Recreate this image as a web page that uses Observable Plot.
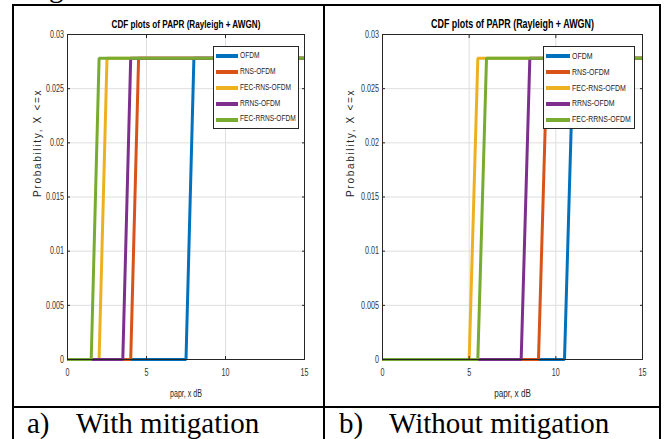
<!DOCTYPE html>
<html>
<head>
<meta charset="utf-8">
<script src="https://cdn.jsdelivr.net/npm/d3@7"></script>
<script src="https://cdn.jsdelivr.net/npm/@observablehq/plot@0.6"></script>
<style>
  html, body { margin: 0; padding: 0; background: #fff; }
  #wrap { position: relative; width: 667px; height: 439px; overflow: hidden; background: #fff; }
  .panel { position: absolute; top: 0; }
  .panel svg { overflow: visible; }
  .leg { position: absolute; background: #fff; border: 1px solid #262626; box-sizing: border-box;
         font-family: "Liberation Sans", Arial, sans-serif; color: #262626; }
  .leg .sw { position: absolute; height: 4px; }
  .leg .lb { position: absolute; line-height: 1; white-space: nowrap; transform-origin: 0 50%; transform: scaleX(0.71); }
  #over { position: absolute; left: 0; top: 0; pointer-events: none; }
</style>
</head>
<body>
<div id="wrap">
  <div id="left" class="panel" style="left:14px"></div>
  <div id="right" class="panel" style="left:325px"></div>
</div>
<script>
// ---------- data ----------
const seriesNames  = ["OFDM", "RNS-OFDM", "FEC-RNS-OFDM", "RRNS-OFDM", "FEC-RRNS-OFDM"];
const seriesColors = ["#0072BD", "#D95319", "#EDB120", "#7E2F8E", "#77AC30"];

// a) With mitigation : papr (dB) points and CDF values per series
const withX = [
  [0, 7.5, 8.0, 15],   // OFDM
  [0, 4.0, 4.5, 15],   // RNS-OFDM
  [0, 2.0, 2.5, 15],   // FEC-RNS-OFDM
  [0, 3.5, 4.0, 15],   // RRNS-OFDM
  [0, 1.5, 2.0, 15]    // FEC-RRNS-OFDM
];
const withY = [
  [0, 0, 0.0278, 0.0278],
  [0, 0, 0.0278, 0.0278],
  [0, 0, 0.0278, 0.0278],
  [0, 0, 0.0278, 0.0278],
  [0, 0, 0.0278, 0.0278]
];

// b) Without mitigation
const withoutX = [
  [0, 10.5, 11.0, 15], // OFDM
  [0, 9.0, 9.5, 15],   // RNS-OFDM
  [0, 5.0, 5.5, 15],   // FEC-RNS-OFDM
  [0, 8.0, 8.5, 15],   // RRNS-OFDM
  [0, 5.5, 6.0, 15]    // FEC-RRNS-OFDM
];
const withoutY = [
  [0, 0, 0.0278, 0.0278],
  [0, 0, 0.0278, 0.0278],
  [0, 0, 0.0278, 0.0278],
  [0, 0, 0.0278, 0.0278],
  [0, 0, 0.0278, 0.0278]
];

const xTicks = [0, 5, 10, 15];
const xTickLabels = ["0", "5", "10", "15"];
const yTicks = [0, 0.005, 0.01, 0.015, 0.02, 0.025, 0.03];
const yTickLabels = ["0", "0.005", "0.01", "0.015", "0.02", "0.025", "0.03"];

const chartTitle = "CDF plots of PAPR (Rayleigh + AWGN)";
const xLabel = "papr, x dB";
const yLabel = "Probability, X <=x";
const captions = [["a)", "With mitigation"], ["b)", "Without mitigation"]];

// ---------- helpers ----------
function rowsOf(X, Y) {
  return seriesNames.flatMap((name, i) => X[i].map((x, j) => ({series: name, x, y: Y[i][j]})));
}

const sans = "'Liberation Sans', Arial, sans-serif";
const SX = 0.71; // horizontal condensing of MATLAB-like narrow text

function panel(rows, o) {
  const svg = Plot.plot({
    width: o.width, height: 406,
    marginLeft: o.ml, marginRight: o.mr, marginTop: 34, marginBottom: 47,
    x: {domain: [0, 15]},
    y: {domain: [0, 0.03]},
    color: {domain: seriesNames, range: seriesColors},
    style: {fontFamily: sans, fontSize: "10px", color: "#262626", background: "transparent", overflow: "visible"},
    marks: [
      Plot.gridX(xTicks, {stroke: "#dedede", strokeOpacity: 1}),
      Plot.gridY(yTicks, {stroke: "#dedede", strokeOpacity: 1}),
      Plot.line(rows, {x: "x", y: "y", z: "series", stroke: "series", strokeWidth: 3, strokeLinejoin: "miter", strokeLinecap: "butt"}),
      Plot.frame({stroke: "#262626"}),
      Plot.axisX(xTicks, {anchor: "bottom", tickSize: -3, tickFormat: null, text: null, label: null, stroke: "#262626"}),
      Plot.axisX(xTicks, {anchor: "top", tickSize: -3, tickFormat: null, text: null, label: null, stroke: "#262626"}),
      Plot.axisY(yTicks, {anchor: "left", tickSize: -3, tickFormat: null, text: null, label: null, stroke: "#262626"}),
      Plot.axisY(yTicks, {anchor: "right", tickSize: -3, tickFormat: null, text: null, label: null, stroke: "#262626"}),
      Plot.axisX(xTicks, {anchor: "bottom", tickSize: 0, tickPadding: 9.5, label: null, fill: "#333",
        tickFormat: (d, i) => xTickLabels[i], fontSize: o.tick}),
      Plot.axisY(yTicks, {anchor: "left", tickSize: 0, tickPadding: 3.5, label: null, fill: "#333",
        tickFormat: (d, i) => yTickLabels[i], fontSize: o.tick}),
      Plot.text([chartTitle], {frameAnchor: "top", dy: -10.5, lineAnchor: "middle", fontWeight: "bold",
        fontSize: o.title, fill: "#000"}),
      Plot.text([xLabel], {frameAnchor: "bottom", dy: 34, lineAnchor: "middle", fontSize: o.xl, fill: "#262626"}),
      Plot.text([yLabel], {frameAnchor: "left", dx: o.ydx, rotate: -90, lineAnchor: "middle",
        fontSize: o.yl, fill: "#262626"})
    ]
  });
  // condensed (MATLAB-like narrow) text: scale horizontally around each text's anchor;
  // the rotated y label is instead letter-spaced (wide) as in the original figure
  svg.querySelectorAll("text").forEach(t => {
    const tr = t.getAttribute("transform") || "";
    if (t.textContent === yLabel || tr.includes("rotate")) {
      t.style.letterSpacing = o.ls + "px";
      return;
    }
    if (tr) t.setAttribute("transform", tr + ` scale(${SX},1)`);
    else {
      const x = +(t.getAttribute("x") || 0);
      t.setAttribute("transform", `translate(${x},0) scale(${SX},1) translate(${-x},0)`);
    }
  });
  return svg;
}

document.getElementById("left").append(panel(rowsOf(withX, withY),
  {width: 309, ml: 53, mr: 19, tick: 10.1, title: 11.5, xl: 10, yl: 10, ydx: -29.5, ls: 1.7}));
document.getElementById("right").append(panel(rowsOf(withoutX, withoutY),
  {width: 334, ml: 57, mr: 17, tick: 10.1, title: 12.6, xl: 11.5, yl: 10, ydx: -32, ls: 1.7}));

// ---------- legends ----------
function legend(o) {
  const box = document.createElement("div");
  box.className = "leg";
  Object.assign(box.style, {left: o.left + "px", top: o.top + "px", width: o.w + "px", height: o.h + "px"});
  seriesNames.forEach((name, i) => {
    const cy = o.first + i * o.step;
    const sw = document.createElement("div");
    sw.className = "sw";
    Object.assign(sw.style, {left: o.swx + "px", width: o.sww + "px", top: (cy - 2) + "px", background: seriesColors[i]});
    const lb = document.createElement("div");
    lb.className = "lb";
    lb.textContent = name;
    Object.assign(lb.style, {left: o.tx + "px", top: (cy - o.fs * 0.55) + "px", fontSize: o.fs + "px"});
    box.append(sw, lb);
  });
  document.getElementById("wrap").append(box);
}
legend({left: 213, top: 46, w: 86, h: 83, first: 9.3, step: 15.8, swx: 2, sww: 22, tx: 25.5, fs: 9.3});
legend({left: 543, top: 46, w: 92, h: 83, first: 9.3, step: 15.8, swx: 1.5, sww: 24, tx: 27.5, fs: 9.8});

// ---------- table borders and captions ----------
const NS = "http://www.w3.org/2000/svg";
const over = document.createElementNS(NS, "svg");
over.setAttribute("id", "over");
over.setAttribute("width", 667);
over.setAttribute("height", 439);
function rect(x, y, w, h) {
  const r = document.createElementNS(NS, "rect");
  r.setAttribute("x", x); r.setAttribute("y", y); r.setAttribute("width", w); r.setAttribute("height", h);
  r.setAttribute("fill", "#000");
  over.append(r);
}
rect(12, 4, 649, 2);
rect(12, 4, 2, 435);
rect(323, 4, 2, 435);
rect(659, 4, 2, 435);
rect(12, 406, 649, 2);
function stext(str, x, y) {
  const t = document.createElementNS(NS, "text");
  t.setAttribute("x", x); t.setAttribute("y", y);
  t.setAttribute("font-family", "'Liberation Serif', 'Times New Roman', serif");
  t.setAttribute("font-size", 29);
  t.setAttribute("fill", "#000");
  t.textContent = str;
  over.append(t);
}
stext("g", 49, -3.5);
stext(captions[0][0], 27, 433);
stext(captions[0][1], 76, 433);
stext(captions[1][0], 339, 432.5);
stext(captions[1][1], 389, 432.5);
document.getElementById("wrap").append(over);
</script>
</body>
</html>
